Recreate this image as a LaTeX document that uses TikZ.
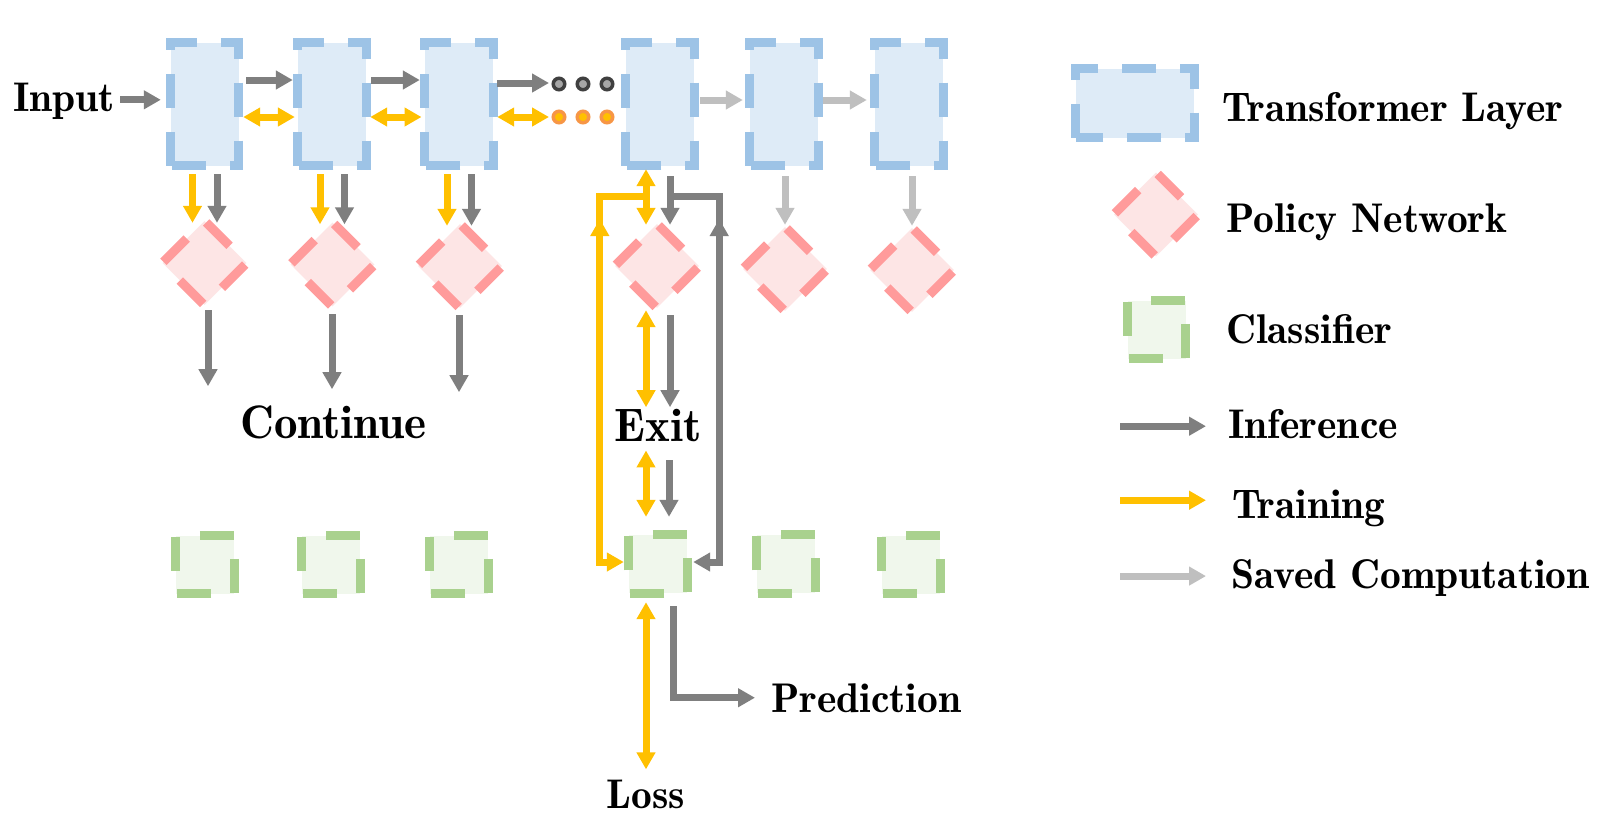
\documentclass[tikz,border=0pt]{standalone}
\usepackage{fontspec}
\newfontfamily\demi{lmromandemi10-regular.otf}
\usetikzlibrary{arrows.meta,shapes.geometric,calc}
\definecolor{tlfill}{HTML}{DEEBF7}
\definecolor{tldraw}{HTML}{9DC3E6}
\definecolor{pnfill}{HTML}{FDE5E5}
\definecolor{pndraw}{HTML}{FF9B9B}
\definecolor{clfill}{HTML}{F0F7EC}
\definecolor{cldraw}{HTML}{A9D18E}
\definecolor{infc}{HTML}{7F7F7F}
\definecolor{trc}{HTML}{FFC000}
\definecolor{savc}{HTML}{BFBFBF}
\definecolor{dotring}{HTML}{404040}
\definecolor{dotin}{HTML}{A6A6A6}
\definecolor{oring}{HTML}{F79646}
\tikzset{
  tl/.style={rectangle, inner sep=0pt, minimum width=68pt, minimum height=123pt, fill=tlfill},
  tllegend/.style={rectangle, inner sep=0pt, minimum width=118pt, minimum height=69pt, fill=tlfill},
  tlb/.style={draw=tldraw, line width=9pt, dash pattern=on 34pt off 24pt},
  pn/.style={diamond, inner sep=0pt, minimum size=84pt, fill=pnfill},
  pnb/.style={draw=pndraw, line width=9pt, dash pattern=on 33pt off 26.4pt, dash phase=57pt},
  cl/.style={rectangle, inner sep=0pt, minimum size=58pt, fill=clfill},
  clb/.style={draw=cldraw, line width=9pt, dash pattern=on 34pt off 24pt, dash phase=34pt},
  conn/.style={line width=7pt},
  inf/.style={conn, draw=infc},
  tr/.style={conn, draw=trc},
  sav/.style={conn, draw=savc},
  gdot/.style={circle, inner sep=0pt, minimum size=11.5pt, line width=3.5pt, draw=dotring, fill=dotin},
  odot/.style={circle, inner sep=0pt, minimum size=11.5pt, line width=3.5pt, draw=oring, fill=trc},
  lbl/.style={inner sep=0pt, font=\demi\fontsize{41.5}{44}\selectfont},
  big/.style={inner sep=0pt, font=\demi\fontsize{47}{49}\selectfont},
}
\newcommand\tlborder[1]{\draw[tlb] (#1.south west) -- (#1.north west) -- (#1.north east) -- (#1.south east) -- cycle;}
\newcommand\pnborder[1]{\draw[pnb] (#1.north) -- (#1.east) -- (#1.south) -- (#1.west) -- cycle;}
\newcommand\clborder[1]{\draw[clb] (#1.north west) -- (#1.north east) -- (#1.south east) -- (#1.south west) -- cycle;}
\begin{document}
\begin{tikzpicture}[x=1pt, y=1pt, >={Triangle[length=17pt,width=18pt]}]
\fill[white] (0,0) rectangle (1602,-823);
\useasboundingbox (0,0) rectangle (1602,-823);

% transformer layers
\node[tl] (T1) at (204.5,-104) {};
\node[tl] (T2) at (332,-104) {};
\node[tl] (T3) at (459,-104) {};
\node[tl] (T4) at (660,-104) {};
\node[tl] (T5) at (784,-104) {};
\node[tl] (T6) at (909,-104) {};
\foreach \n in {T1,T2,T3,T4,T5,T6} {\tlborder{\n}}

% policy networks
\node[pn] (P1) at (204.5,-263) {};
\node[pn] (P2) at (332.5,-264.5) {};
\node[pn] (P3) at (460,-266) {};
\node[pn] (P4) at (657,-266) {};
\node[pn] (P5) at (785,-269) {};
\node[pn] (P6) at (912,-270) {};
\foreach \n in {P1,P2,P3,P4,P5,P6} {\pnborder{\n}}

% classifiers
\node[cl] (C1) at (205,-564.5) {};
\node[cl] (C2) at (331,-564.5) {};
\node[cl] (C3) at (459,-564.5) {};
\node[cl] (C4) at (658,-564) {};
\node[cl] (C5) at (786,-564) {};
\node[cl] (C6) at (911,-564.5) {};
\foreach \n in {C1,C2,C3,C4,C5,C6} {\clborder{\n}}

% dots
\node[gdot] (d1) at (559,-84) {};
\node[gdot] (d2) at (583,-84) {};
\node[gdot] (d3) at (607,-84) {};
\node[odot] (o1) at (559,-117) {};
\node[odot] (o2) at (583,-117) {};
\node[odot] (o3) at (607,-117) {};

% texts
\node[lbl, anchor=base west] (In) at (13,-111) {Input};
\node[big, anchor=base] (Cont) at (333.5,-438) {Continue};
\node[big, anchor=base] (Exit) at (658,-441.7) {Exit};
\node[lbl, anchor=base] (Loss) at (646,-808) {Loss};
\node[lbl, anchor=base west] (Pred) at (771,-712) {Prediction};

% top row connectors
\draw[inf,->] ($(In.east)+(5,1)$) -- ($(T1.west |- In.east)+(-9.5,1)$);
\draw[inf,->] ($(T1.east)+(7.5,24)$) -- ($(T2.west)+(-5,24)$);
\draw[inf,->] ($(T2.east)+(5,24)$) -- ($(T3.west)+(-5,24)$);
\draw[tr,<->] ($(T1.east)+(4.5,-13)$) -- ($(T2.west)+(-3,-13)$);
\draw[tr,<->] ($(T2.east)+(4,-13)$) -- ($(T3.west)+(-3.3,-13)$);
\draw[inf,->] ($(T3.east |- d1)+(4,1)$) -- ($(d1.west)+(-2.5,1)$);
\draw[tr,<->] ($(T3.east |- o1)+(4,0)$) -- ($(o1.west)+(-2.5,0)$);
\draw[sav,->] ($(T4.east)+(6,4)$) -- ($(T5.west)+(-7,4)$);
\draw[sav,->] ($(T5.east)+(5,4)$) -- ($(T6.west)+(-8,4)$);

% layer -> policy
\foreach \t/\p in {T1/P1,T2/P2,T3/P3} {
  \draw[tr,->] ($(\t.south)+(-12,-8.5)$) -- ($(\t.south |- \p.north)+(-12,-2)$);
  \draw[inf,->] ($(\t.south)+(12.5,-8.5)$) -- ($(\t.south |- \p.north)+(12.5,-2)$);
}
\draw[sav,->] ($(T5.south)+(1,-10.5)$) -- ($(T5.south |- P5.north)+(1,2)$);
\draw[sav,->] ($(T6.south)+(3,-10.5)$) -- ($(T6.south |- P6.north)+(3,2)$);
\draw[tr,<->] ($(T4.south)+(-14,-3.5)$) -- ($(T4.south |- P4.north)+(-14,-1)$);
\draw[inf,->] ($(T4.south)+(10,-10.5)$) -- ($(T4.south |- P4.north)+(10,-1)$);

% policy -> continue
\draw[inf,->] ($(P1.south)+(3.5,-5)$) -- ($(P1.south)+(3.5,-81)$);
\draw[inf,->] ($(P2.south)+(-0.5,-7.5)$) -- ($(P2.south)+(-0.5,-82.5)$);
\draw[inf,->] ($(P3.south)+(-1,-7)$) -- ($(P3.south)+(-1,-84)$);

% branches from layer 4 to classifier 4
\draw[inf,->] ($(T4.south)+(10,-30.5)$) -| ($(C4.east)+(32,2)$) -- ($(C4.east)+(6,2)$);
\draw[tr,->] ($(T4.south)+(-14,-30.5)$) -| ($(C4.west)+(-29,2)$) -- ($(C4.west)+(-5,2)$);
\coordinate (gmA) at ($(C4.east)+(32,324)$);
\coordinate (gmB) at ($(C4.east)+(32,345)$);
\coordinate (ymA) at ($(C4.west)+(-29,324)$);
\coordinate (ymB) at ($(C4.west)+(-29,345)$);
\draw[inf,->] (gmA) -- (gmB);
\draw[tr,->] (ymA) -- (ymB);

% policy 4 -> exit -> classifier 4
\draw[tr,<->] ($(P4.south)+(-11,-2)$) -- ($(Exit.north)+(-12,2)$);
\draw[inf,->] ($(P4.south)+(13,-7)$) -- ($(Exit.north)+(12,2)$);
\draw[tr,<->] ($(Exit.south)+(-12,-8.3)$) -- ($(Exit.south |- C4.north)+(-12,18)$);
\draw[inf,->] ($(Exit.south)+(11,-18.3)$) -- ($(Exit.south |- C4.north)+(11,18)$);

% classifier 4 -> loss / prediction
\draw[tr,<->] ($(C4.south)+(-12,-9)$) -- ($(Loss.north)+(0,10)$);
\draw[inf,->] ($(C4.south)+(15,-13)$) |- ($(Pred.west)+(-16,0)$);

% legend
\node[tllegend] (LT) at (1135,-103) {};
\tlborder{LT}
\node[pn] (LP) at (1156,-214.5) {};
\pnborder{LP}
\node[cl] (LC) at (1156.5,-329.5) {};
\clborder{LC}
\node[lbl, anchor=base west] (LTt) at (1222,-121) {Transformer Layer};
\node[lbl, anchor=base west] (LPt) at (1226,-232) {Policy Network};
\node[lbl, anchor=base west] (LCt) at (1226,-343) {Classifier};
\node[lbl, anchor=base west] (LIt) at (1228,-438) {Inference};
\node[lbl, anchor=base west] (LRt) at (1232,-518) {Training};
\node[lbl, anchor=base west] (LSt) at (1231,-588) {Saved Computation};
\draw[inf,->] ($(LIt.west)+(-108,-2.6)$) -- ($(LIt.west)+(-22,-2.6)$);
\draw[tr,->] ($(LRt.west)+(-112,7.7)$) -- ($(LRt.west)+(-26,7.7)$);
\draw[sav,->] ($(LSt.west)+(-111,1.5)$) -- ($(LSt.west)+(-25,1.5)$);
\end{tikzpicture}
\end{document}
